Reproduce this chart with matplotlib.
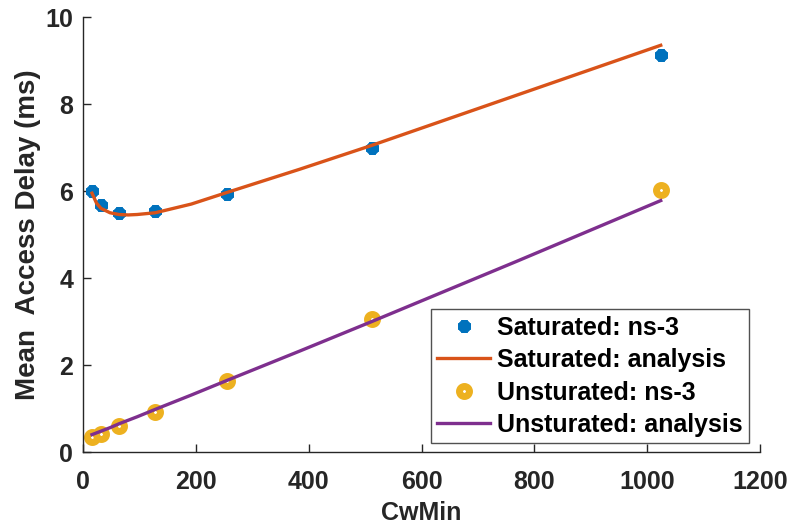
import matplotlib.pyplot as plt

# CwMin values used in the ns-3 runs
cw_sim = [16, 32, 64, 128, 256, 512, 1024]
sat_sim = [6.0, 5.68, 5.5, 5.53, 5.93, 7.0, 9.13]
unsat_sim = [0.35, 0.42, 0.6, 0.93, 1.63, 3.05, 6.03]

# analytical model, evaluated on a finer CwMin grid
cw_ana = [16, 24, 32, 48, 64, 80, 96, 128, 192, 256, 384, 512, 768, 1024]
sat_ana = [5.95, 5.72, 5.6, 5.5, 5.46, 5.45, 5.46, 5.5, 5.7, 5.97, 6.5, 7.05, 8.2, 9.35]
unsat_ana = [0.4, 0.44, 0.48, 0.56, 0.65, 0.73, 0.81, 0.98, 1.31, 1.65, 2.32, 3.0, 4.38, 5.78]

plt.rcParams['font.family'] = ['Liberation Sans', 'DejaVu Sans']
plt.rcParams['font.weight'] = 'bold'
dark = '#262626'
fs = 18

fig = plt.figure(figsize=(7.88, 5.25), dpi=100)
ax = fig.add_axes([0.1053, 0.139, 0.8592, 0.8286])

ax.plot(cw_sim, sat_sim, linestyle='none', marker=(8, 2, 0), markersize=9,
        markeredgewidth=3.8, color='#0072BD', label='Saturated: ns-3')
ax.plot(cw_ana, sat_ana, color='#D95319', linewidth=2.4, label='Saturated: analysis')
ax.plot(cw_sim, unsat_sim, linestyle='none', marker='o', markersize=7.2,
        markeredgewidth=5, markerfacecolor='white', markeredgecolor='#EDB120',
        label='Unsturated: ns-3')
ax.plot(cw_ana, unsat_ana, color='#7E2F8E', linewidth=2.4, label='Unsturated: analysis')

ax.set_xlim(0, 1200)
ax.set_ylim(0, 10)
ax.set_xticks(range(0, 1201, 200))
ax.set_yticks(range(0, 11, 2))
ax.tick_params(direction='in', length=6, width=1, colors=dark, labelsize=fs)
ax.tick_params(axis='x', pad=13)
ax.tick_params(axis='y', pad=7)
for s in ['top', 'right']:
    ax.spines[s].set_visible(False)
for s in ['left', 'bottom']:
    ax.spines[s].set_color(dark)
    ax.spines[s].set_linewidth(1)

ax.set_xlabel('CwMin', fontsize=fs, color=dark, fontweight='bold', labelpad=5)
ax.set_ylabel('Mean  Access Delay (ms)', fontsize=20, color=dark, fontweight='bold', labelpad=3.5)

leg = ax.legend(loc='lower right', bbox_to_anchor=(0.984, 0.02), fontsize=fs,
                frameon=True, fancybox=False, edgecolor=dark, handlelength=2.1,
                handletextpad=0.3, borderpad=0.25, labelspacing=0.34, borderaxespad=0)
leg.get_frame().set_linewidth(1)
for t in leg.get_texts():
    t.set_color('black')

fig.savefig('out.png', dpi=100)
